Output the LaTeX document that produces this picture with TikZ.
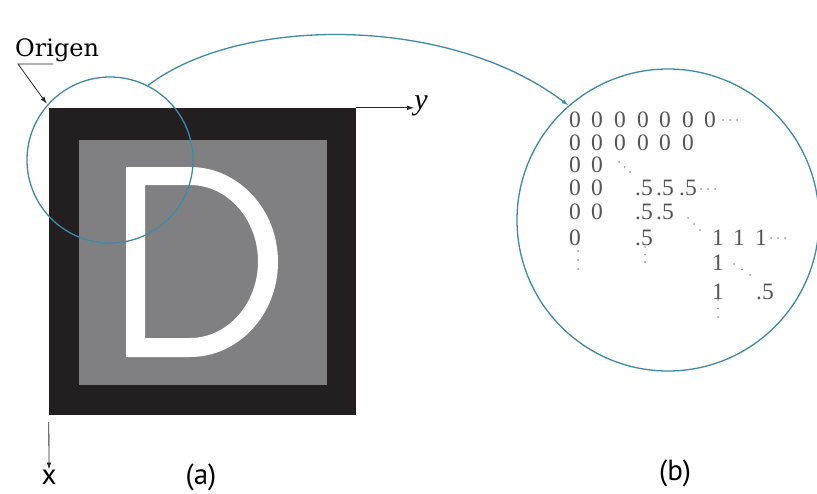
\documentclass[tikz,border=0pt]{standalone}
\usepackage{fontspec}
\usetikzlibrary{arrows.meta,positioning,calc}
\newfontfamily\numfont{Liberation Serif}
\newfontfamily\labfont{PT Sans}
\newfontfamily\orifont{DejaVu Serif}
\definecolor{lensblue}{RGB}{62,138,165}
\definecolor{imgblack}{RGB}{35,31,32}
\definecolor{imggray}{RGB}{128,128,130}
\definecolor{valgray}{RGB}{85,85,85}
\definecolor{dotgray}{RGB}{140,155,170}
% three small dots from (#1,#2) in steps of (#3,#4)
\newcommand{\dotrun}[4]{\foreach \k in {0,1,2} \fill[dotgray] ({#1+\k*#3},{#2+\k*#4}) circle (1pt);}
\begin{document}
\begin{tikzpicture}[x=1pt,y=1pt,>={Latex[length=7pt,width=4.5pt]},
  lens/.style={draw=lensblue,line width=1.3pt,circle,inner sep=0pt},
  val/.style={text=valgray,font=\numfont\fontsize{23.5}{23.5}\selectfont,inner sep=0pt},
  labtext/.style={font=\labfont\fontsize{29}{29}\selectfont,inner sep=0pt}]
\useasboundingbox (0,0) rectangle (817,-493);
% the image
\node[fill=imgblack,minimum size=307pt,inner sep=0pt](img) at (202.5,-261.5){};
\node[fill=imggray,minimum width=248pt,minimum height=245pt,inner sep=0pt](inner) at (203,-262.5){};
\fill[white,even odd rule] (126,-167) -- (190,-167) arc[start angle=90,end angle=-90,x radius=88,y radius=95] -- (126,-357) -- cycle
  (145,-185) -- (190,-185) arc[start angle=90,end angle=-90,x radius=68,y radius=76.5] -- (145,-338) -- cycle;
% axes and origin
\node[font=\numfont\itshape\fontsize{30}{30}\selectfont,inner sep=0pt](ylab) at (421,-106){y};
\node[labtext](xlab) at (49,-477){x};
\draw[->,black!85,line width=0.8pt] (img.north east) -- (img.north east -| ylab.west);
\draw[->,black!85,line width=0.8pt] ([yshift=-7pt]img.south west) -- (xlab.north);
\node[font=\orifont\fontsize{24}{24}\selectfont,inner sep=0pt,anchor=base west](origen) at (15,-56){Origen};
\draw[->,black!85,line width=0.8pt] ([xshift=38pt,yshift=-8pt]origen.base west) -- ++(-35,0) -- ([shift={(-2pt,4pt)}]img.north west);
% lenses
\node[lens,minimum size=166pt](lupa) at (110,-160){};
\node[lens,minimum size=302pt](zoom) at (668,-220){};
\draw[->,lensblue,line width=1.3pt] (lupa.63) .. controls (240,-15) and (450,-15) .. (zoom.131);
% pixel values
\foreach \t/\x/\y [count=\i] in {0/575/120,0/597/120,0/620/120,0/643/120,0/665/120,0/688/120,0/710/120,
  0/575/143,0/597/143,0/620/143,0/643/143,0/665/143,0/688/143,
  0/575/165,0/597/165,
  0/575/188,0/597/188,.5/644/188,.5/665/188,.5/688/188,
  0/575/212,0/597/212,.5/644/212,.5/665/212,
  0/575/238,.5/644/238,1/718/238,1/739/238,1/761/238,
  1/718/263,
  1/718/292,.5/765/292}
  \node[val](p\i) at (\x,-\y){\t};
\dotrun{723}{-120}{7}{0}
\dotrun{619}{-162}{5.5}{-5}
\dotrun{701}{-189}{7}{0}
\dotrun{688}{-218}{6}{-6}
\dotrun{771}{-238}{7}{0}
\dotrun{578}{-251}{0}{-9}
\dotrun{645}{-247}{0}{-7.5}
\dotrun{734}{-264}{8}{-5.5}
\dotrun{718}{-300}{0}{-8.5}
% captions
\node[labtext](capa) at (201,-477){(a)};
\node[labtext](capb) at (675,-473){(b)};
\end{tikzpicture}
\end{document}
